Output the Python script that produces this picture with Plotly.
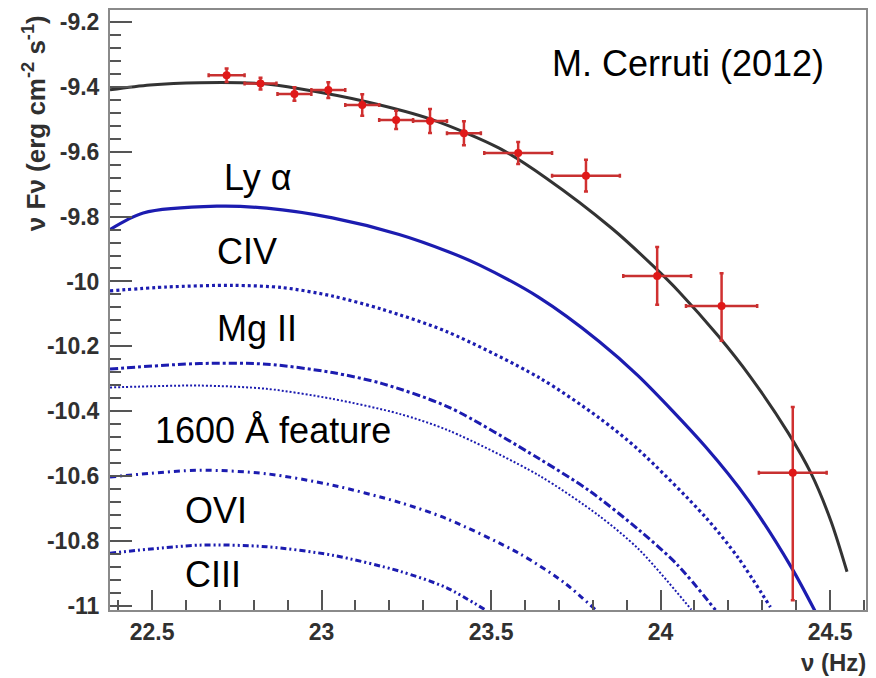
import plotly.graph_objects as go

# ---- data points (log nu, log nuFnu) ----
pt_x = [22.72, 22.82, 22.92, 23.02, 23.12, 23.22, 23.32, 23.42, 23.58, 23.78, 23.99, 24.18, 24.39]
pt_y = [-9.364, -9.390, -9.422, -9.410, -9.456, -9.502, -9.505, -9.543, -9.604, -9.674, -9.983, -10.076, -10.590]
pt_xerr = [0.053, 0.047, 0.05, 0.05, 0.05, 0.05, 0.05, 0.05, 0.10, 0.10, 0.10, 0.105, 0.10]
pt_yerr_up = [0.021, 0.018, 0.021, 0.024, 0.033, 0.028, 0.037, 0.037, 0.034, 0.049, 0.089, 0.101, 0.203]
pt_yerr_dn = [0.021, 0.018, 0.021, 0.024, 0.033, 0.028, 0.037, 0.037, 0.034, 0.049, 0.089, 0.107, 0.393]

# ---- total model ----
tot_x = [22.376, 22.494, 22.641, 22.824, 22.935, 23.132, 23.326, 23.524, 23.662, 23.856,
         23.985, 24.053, 24.171, 24.265, 24.376, 24.444, 24.503, 24.550]
tot_y = [-9.409, -9.394, -9.387, -9.390, -9.406, -9.446, -9.501, -9.589, -9.681, -9.836,
         -9.959, -10.030, -10.169, -10.294, -10.466, -10.592, -10.740, -10.895]

# ---- line components ----
lya_x = [22.376, 22.474, 22.691, 22.838, 23.032, 23.229, 23.376, 23.465, 23.641, 23.818, 23.935, 24.132, 24.259, 24.385, 24.456]
lya_y = [-9.840, -9.789, -9.768, -9.774, -9.804, -9.855, -9.909, -9.949, -10.049, -10.184, -10.292, -10.509, -10.675, -10.880, -11.017]

civ_x = [22.376, 22.544, 22.738, 22.885, 23.032, 23.179, 23.368, 23.641, 23.818, 23.935, 24.132, 24.229, 24.324]
civ_y = [-10.029, -10.017, -10.012, -10.019, -10.045, -10.086, -10.154, -10.296, -10.420, -10.519, -10.726, -10.852, -11.004]

mg_x = [22.376, 22.641, 22.838, 23.032, 23.179, 23.376, 23.641, 23.788, 23.935, 24.050, 24.162]
mg_y = [-10.270, -10.253, -10.255, -10.281, -10.315, -10.388, -10.546, -10.644, -10.765, -10.874, -11.013]

f1600_x = [22.376, 22.641, 22.838, 23.032, 23.229, 23.376, 23.641, 23.818, 23.935, 24.091]
f1600_y = [-10.327, -10.321, -10.331, -10.362, -10.408, -10.460, -10.598, -10.722, -10.825, -11.012]

ovi_x = [22.376, 22.641, 22.838, 23.032, 23.229, 23.368, 23.582, 23.715, 23.809]
ovi_y = [-10.603, -10.582, -10.593, -10.628, -10.681, -10.731, -10.838, -10.928, -11.013]

ciii_x = [22.376, 22.641, 22.838, 23.032, 23.229, 23.368, 23.485]
ciii_y = [-10.838, -10.813, -10.818, -10.844, -10.893, -10.944, -11.014]

# ---- ticks ----
y_tickvals = [-11, -10.8, -10.6, -10.4, -10.2, -10, -9.8, -9.6, -9.4, -9.2]
y_ticktext = ["-11", "-10.8", "-10.6", "-10.4", "-10.2", "-10", "-9.8", "-9.6", "-9.4", "-9.2"]
x_tickvals = [22.5, 23, 23.5, 24, 24.5]
x_ticktext = ["22.5", "23", "23.5", "24", "24.5"]

BLUE = "#1c1cb0"

fig = go.Figure()

def comp(x, y, dash, width, color=BLUE):
    fig.add_trace(go.Scatter(x=x, y=y, mode="lines",
                             line=dict(color=color, width=width, dash=dash, shape="spline", smoothing=0.8),
                             showlegend=False, hoverinfo="skip"))

comp(ciii_x, ciii_y, "6px,3px,2px,3px,2px,3px", 3)
comp(ovi_x, ovi_y, "6px,4px,2px,4px", 3)
comp(f1600_x, f1600_y, "2px,2px", 2)
comp(mg_x, mg_y, "8px,3px,3px,3px", 3)
comp(civ_x, civ_y, "3px,3px", 3.2)
comp(lya_x, lya_y, "solid", 3.2)
comp(tot_x, tot_y, "solid", 3, "#333333")

fig.add_trace(go.Scatter(
    x=pt_x, y=pt_y, mode="markers",
    marker=dict(color="#e01818", size=8, symbol="circle"),
    error_x=dict(type="data", array=pt_xerr, color="#c83030", thickness=2.5, width=2),
    error_y=dict(type="data", symmetric=False, array=pt_yerr_up, arrayminus=pt_yerr_dn,
                 color="#d03030", thickness=2.5, width=2),
    showlegend=False, hoverinfo="skip"))

axis_common = dict(
    showline=True, linecolor="#8a8a8a", linewidth=2, mirror=True,
    ticks="inside", tickcolor="#555555", tickwidth=2,
    showgrid=False, zeroline=False,
    tickfont=dict(family="Liberation Sans", size=23, color="#303030", weight="bold"),
)

fig.update_xaxes(range=[22.376, 24.606], tickmode="array", tickvals=x_tickvals, ticktext=x_ticktext,
                 ticklen=20, minor=dict(dtick=0.1, tick0=22.5, ticklen=10, ticks="inside", tickcolor="#555555", tickwidth=2),
                 **axis_common)
fig.update_yaxes(range=[-11.013, -9.163], tickmode="array", tickvals=y_tickvals, ticktext=y_ticktext,
                 ticklen=22, ticklabelstandoff=4,
                 minor=dict(dtick=0.04, tick0=-11, ticklen=11, ticks="inside", tickcolor="#555555", tickwidth=2),
                 **axis_common)

lab_font = dict(family="Liberation Sans", size=36, color="black")
labels = [
    ("M. Cerruti (2012)", 23.675, -9.328),
    ("Ly α", 22.706, -9.679),
    ("CIV", 22.685, -9.907),
    ("Mg II", 22.685, -10.146),
    ("1600 Å feature", 22.503, -10.46),
    ("OVI", 22.591, -10.705),
    ("CIII", 22.591, -10.905),
]
for txt, lx, ly in labels:
    fig.add_annotation(x=lx, y=ly, xref="x", yref="y", text=txt, showarrow=False,
                       xanchor="left", yanchor="middle", font=lab_font)

fig.add_annotation(xref="paper", yref="paper", x=(35 - 110) / 758, y=(610 - 11) / 602,
                   text="ν Fν (erg cm<sup>-2</sup> s<sup>-1</sup>)", textangle=-90, showarrow=False,
                   xanchor="center", yanchor="top",
                   font=dict(family="Liberation Sans", size=26, color="#303030", weight="bold"))
fig.add_annotation(xref="paper", yref="paper", x=1.003, y=-(663 - 610) / 602,
                   text="ν (Hz)", showarrow=False, xanchor="right", yanchor="middle",
                   font=dict(family="Liberation Sans", size=24, color="#303030", weight="bold"))

fig.update_layout(
    width=876, height=678,
    margin=dict(l=110, r=8, t=8, b=68),
    paper_bgcolor="white", plot_bgcolor="white",
)

fig.write_html("out.html")
